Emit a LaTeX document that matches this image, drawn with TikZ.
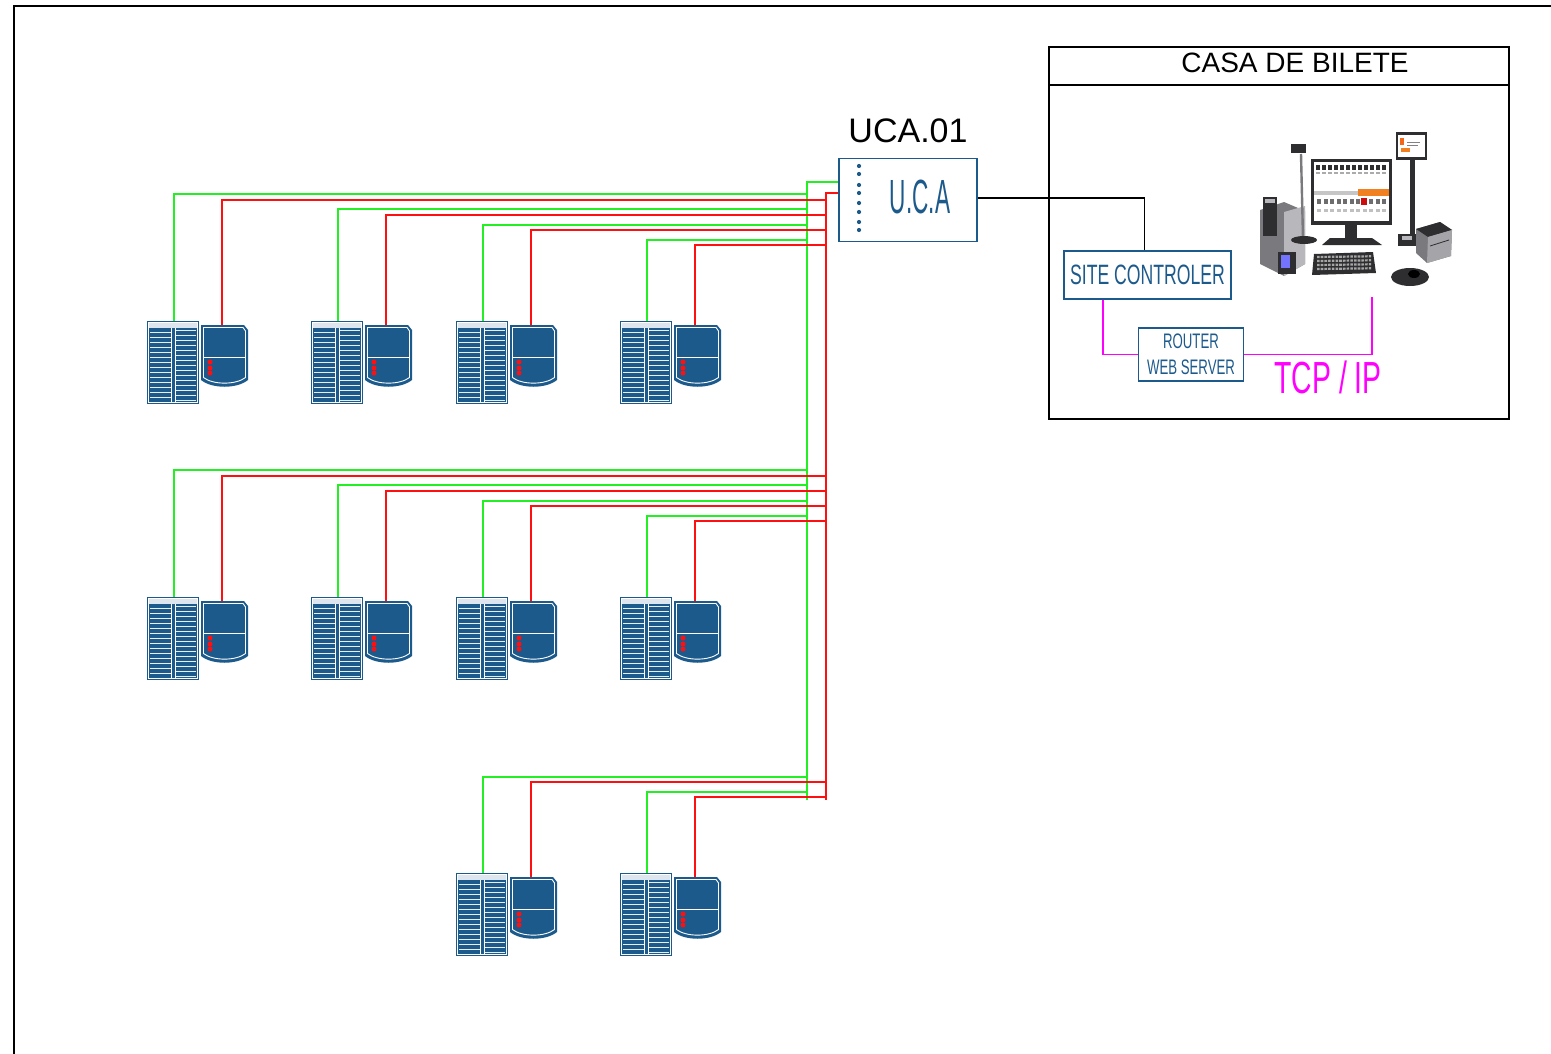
\documentclass[tikz,border=0pt]{standalone}
\usepackage{fontspec}
\setmainfont{Liberation Sans}
\newfontfamily\narrowfont[FakeStretch=0.63]{Liberation Sans}
\newfontfamily\ucafont[FakeStretch=0.47]{Liberation Sans}
\usetikzlibrary{positioning}
\definecolor{devblue}{HTML}{1D5A8C}
\definecolor{wiregreen}{HTML}{22F022}
\definecolor{wirered}{HTML}{FF1010}
\definecolor{lanpink}{HTML}{FF00FF}
\definecolor{posdark}{HTML}{2E2E30}
\definecolor{posgray}{HTML}{7A7A7E}
\definecolor{poslight}{HTML}{B8B8BC}
\definecolor{posorange}{HTML}{F08020}

% access unit: rack cabinet + wall panel, origin at rack top-left
\tikzset{
  pics/device/.style={code={
    % rack
    \fill[devblue] (0,0) rectangle (52,83);
    \fill[white!85!devblue] (2,2) rectangle (50,7);
    \foreach \s in {11,16,...,81} {
      \draw[white!90!devblue, line width=0.75pt] (3,\s) -- (24,\s);
      \draw[white!90!devblue, line width=0.75pt] (29,\s-2) -- (49,\s-2);
    }
    \draw[white, line width=0.8pt] (24.5,7) -- (24.5,81) (28.5,7) -- (28.5,81);
    \draw[white, line width=0.8pt] (1.5,1.5) rectangle (50.5,81.5);
    % panel
    \fill[devblue] (54,4) -- (97,4) -- (101,9) -- (101,59)
      .. controls (90,68) and (65,68) .. (54,59) -- cycle;
    \draw[white, line width=0.9pt] (56.5,6.5) -- (96,6.5) -- (98.5,10) -- (98.5,56.5)
      .. controls (89,64) and (66,64) .. (56.5,56.5) -- cycle;
    \draw[white, line width=0.8pt] (57,36) -- (98,36);
    \foreach \d in {41,47,52} \fill[wirered] (63,\d) circle (2.5pt);
    % wire taps
    \coordinate (-g) at (27,0);
    \coordinate (-r) at (75,4);
  }}
}

\begin{document}
\begin{tikzpicture}[
  x=1pt, y=-1pt,
  gwire/.style={wiregreen, line width=1.6pt},
  rwire/.style={wirered, line width=1.6pt},
  ctl/.style={black, line width=1.4pt},
  lan/.style={lanpink, line width=1.6pt},
  bluebox/.style={draw=devblue, line width=1.9pt, rectangle, inner sep=0pt,
                  text=devblue},
  frame/.style={black, line width=2.2pt}
]
\useasboundingbox (0,0) rectangle (1551,1054);

%% sheet border
\draw[frame] (14,1054) -- (14,6) -- (1551,6);

%% ticket office
\draw[frame, line width=1.8pt] (1049,47) rectangle (1509,419);
\draw[frame, line width=1.8pt] (1049,85) -- (1509,85);
\node[inner sep=0pt, font=\fontsize{28}{30}\selectfont] (casa) at (1295,63) {CASA DE BILETE};

%% controller
\node[bluebox, minimum width=138pt, minimum height=83pt] (uca) at (908,200) {};
\node[inner sep=0pt, text=devblue, font=\ucafont\fontsize{48}{50}\selectfont] (ucatxt) at (920,197) {U.C.A};
\node[inner sep=0pt, font=\fontsize{34}{36}\selectfont] (ucaname) at (908,131) {UCA.01};
\foreach \d in {166,174,185,193,203,212,222,230} \fill[devblue] (859,\d) circle (2.1pt);

\node[bluebox, minimum width=167pt, minimum height=48pt,
      font=\narrowfont\fontsize{28}{30}\selectfont] (site) at (1147.5,275) {SITE CONTROLER};
\node[bluebox, minimum width=105pt, minimum height=53pt, align=center,
      font=\narrowfont\fontsize{21}{26}\selectfont] (router) at (1191,354.5) {ROUTER\\WEB SERVER};
\node[inner sep=0pt, text=lanpink, font=\narrowfont\fontsize{45}{47}\selectfont] (tcp) at (1328,377) {TCP / IP};
\coordinate (posfoot) at (1372,297);

\draw[ctl] (uca.east |- 0,198) -| ([xshift=-3pt]site.north);
\draw[lan] ([xshift=40pt]site.south west) |- (router.west);
\draw[lan] (router.east) -| (posfoot);

%% workstation: card printer, camera, monitor, keyboard, pole display, receipt printer, pad
\begin{scope}
  \fill[posgray] (1260,210) -- (1284,202) -- (1305,211) -- (1305,264) -- (1284,276) -- (1260,264) -- cycle;
  \fill[poslight] (1284,212) -- (1305,206) -- (1305,264) -- (1284,276) -- cycle;
  \fill[posdark] (1263,197) rectangle (1277,236);
  \fill[poslight] (1265,199) rectangle (1275,203);
  \fill[posdark] (1278,252) rectangle (1296,274);
  \fill[blue!55] (1281,255) rectangle (1290,268);

  \draw[posgray, line width=2.4pt] (1301,154) -- (1303,238);
  \fill[posdark] (1291,144) rectangle (1306,153);
  \fill[posdark] (1304,240) ellipse (13pt and 4pt);

  \fill[posdark] (1311,159) rectangle (1392,225);
  \fill[white] (1314,162) rectangle (1389,221);
  \foreach \k in {0,...,11} {
    \fill[posdark] (1316+6*\k,165) rectangle (1320+6*\k,170);
    \fill[posdark!40] (1316+6*\k,172) rectangle (1320+6*\k,174);
  }
  \fill[gray!45] (1314,191) rectangle (1358,195);
  \fill[posorange] (1358,189) rectangle (1389,196);
  \foreach \k in {0,...,10} \fill[posdark!70] (1317+6.5*\k,199) rectangle (1321+6.5*\k,204);
  \fill[wirered!80!black] (1361,198) rectangle (1367,205);
  \foreach \k in {0,...,10} \fill[posdark!30] (1317+6.5*\k,209) rectangle (1321+6.5*\k,212);
  \fill[posdark] (1345,225) rectangle (1357,240);
  \fill[posdark] (1330,238) -- (1372,238) -- (1382,245) -- (1322,245) -- cycle;

  \fill[posdark] (1314,254) -- (1373,252) -- (1376,273) -- (1312,275) -- cycle;
  \foreach \r in {257,261,265,269}
    \draw[gray!70, line width=2.2pt, dash pattern=on 2.6pt off 1.1pt] (1317,\r) -- (1371,\r-0.7);

  \fill[posdark] (1396,132) rectangle (1427,160);
  \fill[white] (1398,135) rectangle (1425,157);
  \fill[posorange!80!red] (1400,138) rectangle (1404,145);
  \fill[posorange] (1401,148) rectangle (1410,152);
  \draw[posdark!60, line width=0.6pt] (1407,142) -- (1420,142) (1407,145) -- (1418,145);
  \fill[posdark] (1410,160) rectangle (1415,236);
  \fill[posdark] (1398,234) rectangle (1428,246);
  \fill[poslight] (1402,236) rectangle (1412,240);

  \fill[posgray] (1416,229) -- (1440,222) -- (1452,230) -- (1451,256) -- (1427,263) -- (1416,253) -- cycle;
  \fill[posdark] (1416,229) -- (1440,222) -- (1452,230) -- (1428,237) -- cycle;
  \fill[poslight!70!posgray] (1428,237) -- (1452,230) -- (1451,256) -- (1427,263) -- cycle;
  \draw[posdark, line width=0.8pt] (1430,246) -- (1449,240);

  \fill[posdark] (1410,277) ellipse (19pt and 9pt);
  \fill[black] (1414,274) ellipse (6pt and 4pt);
\end{scope}

%% field bus
\coordinate (gtop) at (807,182);
\coordinate (gbot) at (807,800);
\coordinate (rtop) at (826,193);
\coordinate (rbot) at (826,800);
\draw[gwire] (uca.west |- gtop) -- (gtop) -- (gbot);
\draw[rwire] (uca.west |- rtop) -- (rtop) -- (rbot);

%% access units and their drops
\foreach \n/\x/\y/\gy/\ry in {
    a1/147/321/194/200, a2/311/321/209/215, a3/456/321/225/230, a4/620/321/240/245,
    b1/147/597/470/476, b2/311/597/485/491, b3/456/597/501/506, b4/620/597/516/521,
    c3/456/873/777/782, c4/620/873/792/797} {
  \pic (\n) at (\x,\y) {device};
  \draw[gwire] (\n-g) |- (gtop |- 0,\gy);
  \draw[rwire] (\n-r) |- (rtop |- 0,\ry);
}

\end{tikzpicture}
\end{document}
